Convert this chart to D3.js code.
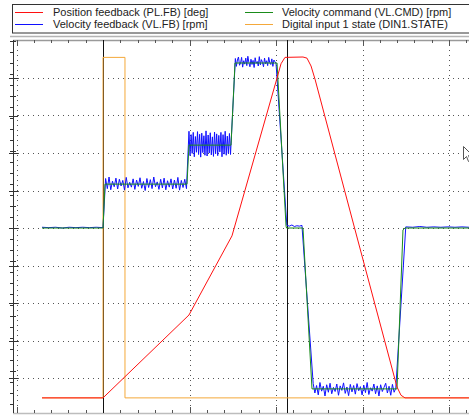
<!DOCTYPE html>
<html><head><meta charset="utf-8">
<script src="https://cdn.jsdelivr.net/npm/d3@7"></script>
<style>html,body{margin:0;padding:0;background:#fff;overflow:hidden}svg{display:block}</style>
</head><body>
<script>
// ---- data (time in grid divisions, values in grid divisions) ----
const legendLabels = ["Position feedback (PL.FB) [deg]","Velocity feedback (VL.FB) [rpm]","Velocity command (VL.CMD) [rpm]","Digital input 1 state (DIN1.STATE)"];
const seriesColors = ["#ff1010","#1010ff","#1a8c1a","#f4a83a"];

const velCmd = [[-0.705,0],[0,0],[0.023,1.17],[0.971,1.17],[0.994,2.21],[1.48,2.21],[1.526,4.4],[2.012,4.4],[2.116,0.05],[2.122,0],[2.312,0],[2.416,-4.29],[3.399,-4.29],[3.468,-0.05],[3.491,0],[4.231,0]];

const posFb = [[-0.705,-4.53],[0,-4.53],[0.994,-2.32],[1.491,-0.21],[2.012,4.0],[2.058,4.38],[2.104,4.55],[2.312,4.56],[2.358,4.53],[2.405,4.32],[2.451,3.97],[2.936,-0.24],[3.399,-4.24],[3.445,-4.46],[3.491,-4.53],[4.231,-4.53]];

const dinState = [[-0.705,-4.53],[0,-4.53],[0,4.55],[0.254,4.55],[0.254,-4.53],[4.231,-4.53]];

const velFbSegments = [
 {t0:-0.705,t1:0.0,v:[0.02,0.01,0.02,0.0,0.02,0.01,0.02,0.01,0.02,0.01]},
 {t0:0.03,t1:0.965,v:[1.32,1.05,1.36,1.02,1.25,1.10,1.33,1.04,1.30,1.12,1.27,1.01,1.35,1.07,1.22,1.09,1.31,1.03,1.28,1.11,1.34,1.06,1.24,1.00,1.32,1.08,1.29,1.05,1.36,1.10,1.23,1.03,1.30,1.07,1.33,1.02,1.26,1.09,1.31,1.04,1.28,1.06,1.35,1.01,1.27,1.08,1.30,1.05]},
 {t0:0.994,t1:1.474,v:[2.58,1.93,2.49,1.99,2.55,1.90,2.44,2.02,2.57,1.96,2.50,1.89,2.53,2.01,2.46,1.94,2.59,1.92,2.48,2.00,2.54,1.95,2.43,1.91,2.56,1.98,2.51,1.93,2.47,2.03,2.55,1.90,2.49,1.97,2.58,1.94,2.45,1.99,2.52,1.96]},
 {t0:1.53,t1:2.0,v:[4.52,4.31,4.48,4.56,4.34,4.40,4.55,4.29,4.46,4.37,4.53,4.33,4.58,4.41,4.30,4.50,4.36,4.47,4.28,4.54,4.39,4.44,4.32,4.57,4.35,4.49,4.42,4.30,4.53,4.38,4.46,4.33,4.55,4.41,4.36,4.51,4.31,4.48,4.43,4.40]},
 {t0:2.125,t1:2.30,v:[0.07,0.05,0.08,0.04,0.06,0.05,0.07]},
 {t0:2.43,t1:3.385,v:[-4.15,-4.40,-4.20,-4.45,-4.12,-4.35,-4.22,-4.48,-4.18,-4.38,-4.14,-4.42,-4.25,-4.36,-4.16,-4.46,-4.21,-4.33,-4.13,-4.41,-4.24,-4.47,-4.17,-4.37,-4.20,-4.43,-4.15,-4.34,-4.23,-4.45,-4.19,-4.39,-4.12,-4.44,-4.26,-4.35,-4.16,-4.42,-4.21,-4.48,-4.18,-4.36,-4.25,-4.14,-4.40,-4.22,-4.46,-4.17,-4.38,-4.27]},
 {t0:3.50,t1:4.231,v:[0.03,0.02,0.04,0.02,0.03,0.02,0.03,0.02,0.03,0.02]}
];

const gridX = [-1,0,1,2,3,4];
const gridY = [-4,-3,-2,-1,0,1,2,3,4];
const cursorsT = [0, 2.127];

// ---- layout ----
const W=469,H=415;
const PL=13,PR=469,PT=40,PB=413;
const svg=d3.select("body").append("svg").attr("width",W).attr("height",H);

const x=d3.scaleLinear().domain([-1.0405,4.2312]).range([PL,PR]);
const y=d3.scaleLinear().domain([-5,5]).range([415.5,40.5]);
const yMinor=d3.scaleLinear().domain([0,33]).range([41,404]);

// legend
const lg=svg.append("g");
lg.append("rect").attr("x",12.5).attr("y",4.5).attr("width",470).attr("height",28.5).attr("fill","#fff").attr("stroke","#333").attr("stroke-width",1);
svg.append("line").attr("x1",10).attr("x2",W).attr("y1",36.5).attr("y2",36.5).attr("stroke","#b4b4b4").attr("stroke-width",1.5);
const legPos=[[15,12,53],[15,24,53],[245,12,282],[245,24,282]];
legendLabels.forEach((lab,i)=>{
  const p=legPos[i];
  lg.append("line").attr("x1",p[0]).attr("x2",p[0]+28).attr("y1",p[1]+0.5).attr("y2",p[1]+0.5).attr("stroke",seriesColors[i]).attr("stroke-width",1);
  lg.append("text").attr("x",p[2]).attr("y",p[1]+4).attr("font-family","Liberation Sans, Arial, sans-serif").attr("font-size","11px").attr("fill","#222").text(lab);
});

// clip
svg.append("defs").append("clipPath").attr("id","c").append("rect").attr("x",PL).attr("y",PT).attr("width",PR-PL).attr("height",PB-PT);

// grid
const grid=svg.append("g").attr("shape-rendering","crispEdges");
grid.selectAll("line.gy").data(gridY).join("line").attr("class","gy")
  .attr("x1",PL).attr("x2",PR).attr("y1",d=>Math.round(y(d))+0.5).attr("y2",d=>Math.round(y(d))+0.5)
  .attr("stroke","#555").attr("stroke-dasharray","1,4").attr("stroke-width",1);
grid.selectAll("line.gx").data(gridX).join("line").attr("class","gx")
  .attr("y1",PT).attr("y2",PB).attr("x1",d=>Math.round(x(d))+0.5).attr("x2",d=>Math.round(x(d))+0.5)
  .attr("stroke","#555").attr("stroke-dasharray","1,4").attr("stroke-width",1);

// frame: top / bottom borders
svg.append("line").attr("x1",PL).attr("x2",PR).attr("y1",PT+0.5).attr("y2",PT+0.5).attr("stroke","#9a9a9a").attr("stroke-width",1.5);
svg.append("line").attr("x1",PL).attr("x2",PR).attr("y1",PB+0.5).attr("y2",PB+0.5).attr("stroke","#bdbdbd").attr("stroke-width",1.5);

// top/bottom axis ticks
const minorX=d3.range(-6,27).map(k=>k/5).filter(t=>t>=-1.03&&t<=4.23);
const axT=d3.axisTop(x).tickValues(minorX).tickFormat("").tickSizeOuter(0).tickSizeInner(-3);
const gT=svg.append("g").attr("transform",`translate(0,${PT})`).attr("shape-rendering","crispEdges").call(axT);
gT.select(".domain").remove();
gT.selectAll(".tick line").attr("stroke","#555").attr("y2",d=>Math.abs(d-Math.round(d))<1e-6?5:3);
const axB=d3.axisBottom(x).tickValues(minorX).tickFormat("").tickSizeOuter(0).tickSizeInner(-3);
const gB=svg.append("g").attr("transform",`translate(0,${PB})`).attr("shape-rendering","crispEdges").call(axB);
gB.select(".domain").remove();
gB.selectAll(".tick line").attr("stroke","#555").attr("y2",d=>Math.abs(d-Math.round(d))<1e-6?-6:-3);

// left axis
svg.append("line").attr("x1",13.5).attr("x2",13.5).attr("y1",PT).attr("y2",PB).attr("stroke","#333").attr("stroke-width",1).attr("shape-rendering","crispEdges");
const axL=d3.axisLeft(yMinor).tickValues(d3.range(0,34)).tickFormat("").tickSizeOuter(0).tickSizeInner(4);
const gL=svg.append("g").attr("transform","translate(13.5,0)").attr("shape-rendering","crispEdges").call(axL);
gL.select(".domain").remove();
gL.selectAll(".tick line").attr("stroke","#333").attr("x1",d=>d%5===0?2:0);
const axL2=d3.axisLeft(y).tickValues(gridY).tickFormat("").tickSizeOuter(0).tickSizeInner(5);
const gL2=svg.append("g").attr("transform","translate(13.5,0)").attr("shape-rendering","crispEdges").call(axL2);
gL2.select(".domain").remove();
gL2.selectAll(".tick line").attr("stroke","#333").attr("x1",4);

// cursors
svg.selectAll("line.cur").data(cursorsT).join("line").attr("class","cur")
  .attr("x1",d=>Math.round(x(d))+0.5).attr("x2",d=>Math.round(x(d))+0.5).attr("y1",PT).attr("y2",PB)
  .attr("stroke","#111").attr("stroke-width",1).attr("shape-rendering","crispEdges");

// series
const line=d3.line().x(d=>x(d[0])).y(d=>y(d[1]));
const velFb=[];
velFbSegments.forEach(s=>{
  const n=s.v.length;
  s.v.forEach((v,i)=>velFb.push([s.t0+(s.t1-s.t0)*(n>1?i/(n-1):0),v]));
});
const plot=svg.append("g").attr("clip-path","url(#c)");
plot.append("path").datum(dinState).attr("d",line).attr("fill","none").attr("stroke",seriesColors[3]).attr("stroke-width",1);
plot.append("path").datum(velFb).attr("d",line).attr("fill","none").attr("stroke",seriesColors[1]).attr("stroke-width",1);
plot.append("path").datum(velCmd).attr("d",line).attr("fill","none").attr("stroke",seriesColors[2]).attr("stroke-width",1);
plot.append("path").datum(posFb).attr("d",line).attr("fill","none").attr("stroke",seriesColors[0]).attr("stroke-width",1);

// mouse pointer artifact
svg.append("path").attr("d","M463.5,146.5 L463.5,159.5 L466.5,156.5 L468.5,161.5 L470.5,160.5 L468.5,155.5 L472.5,155.5 Z")
  .attr("fill","#fff").attr("stroke","#555").attr("stroke-width",1);
</script>
</body></html>
